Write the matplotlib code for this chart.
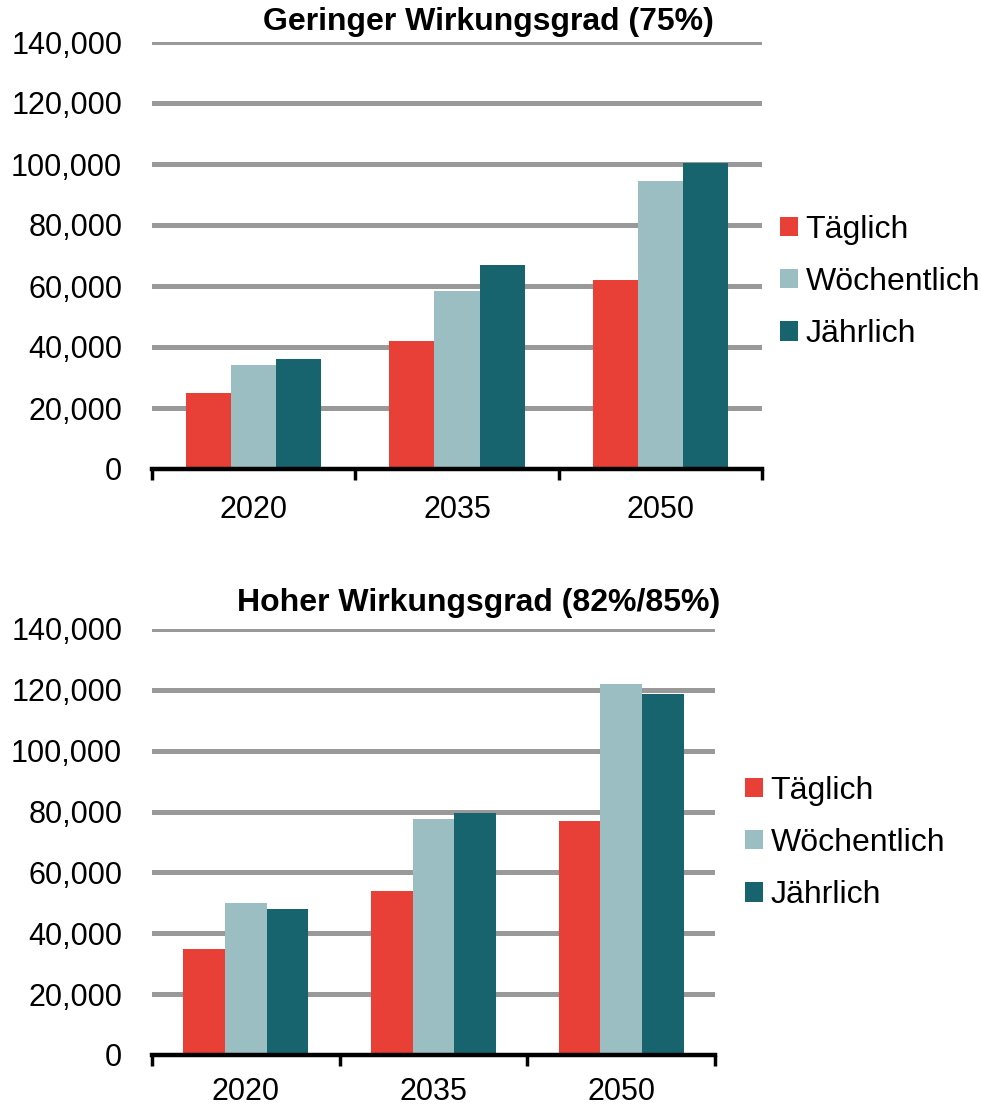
import matplotlib
matplotlib.use("Agg")
import matplotlib.pyplot as plt
from matplotlib.patches import Patch
import numpy as np

plt.rcParams['font.family'] = ['Liberation Sans', 'DejaVu Sans']

years = ["2020", "2035", "2050"]
series = ["Täglich", "Wöchentlich", "Jährlich"]
colors = ["#E84037", "#9BBEC2", "#17646F"]

low_taeglich = [25000, 42000, 62000]
low_woechentlich = [34000, 58300, 94300]
low_jaehrlich = [36000, 67000, 100400]

high_taeglich = [35000, 54000, 77000]
high_woechentlich = [50000, 77500, 122000]
high_jaehrlich = [48000, 79500, 118500]

title_low = "Geringer Wirkungsgrad (75%)"
title_high = "Hoher Wirkungsgrad (82%/85%)"

W, H = 981, 1107
fig = plt.figure(figsize=(W / 100, H / 100), dpi=100)


def fx(px):
    return px / W


def fy(py):
    return 1 - py / H


def draw(ax_rect, data, title, title_xy, legend_xy, xpad):
    ax = fig.add_axes(ax_rect)
    x = np.arange(len(years))
    bw = 0.222
    for i, (vals, c, name) in enumerate(zip(data, colors, series)):
        ax.bar(x + (i - 1) * bw, vals, width=bw, color=c, zorder=3, label=name)
    ax.set_xlim(-0.5, 2.5)
    ax.set_ylim(0, 140000)
    yt = np.arange(0, 140001, 20000)
    ax.set_yticks(yt)
    ax.set_yticklabels([f"{v:,}" for v in yt])
    ax.set_xticks(x)
    ax.set_xticklabels(years)
    ax.set_xticks([-0.5, 0.5, 1.5, 2.5], minor=True)
    ax.tick_params(axis='x', which='major', length=0, labelsize=22, pad=xpad)
    ax.tick_params(axis='x', which='minor', length=8, width=2.5, color='black', direction='out')
    ax.tick_params(axis='y', length=0, labelsize=22, pad=21.5)
    for s in ['top', 'right', 'left']:
        ax.spines[s].set_visible(False)
    ax.spines['bottom'].set_linewidth(3.2)
    ax.spines['bottom'].set_zorder(5)
    ax.yaxis.grid(True, color='#999999', linewidth=3.6, zorder=0)
    ax.set_axisbelow(True)
    fig.text(fx(title_xy[0]), fy(title_xy[1]), title, ha='center', va='center',
             fontsize=23, fontweight='bold')
    handles = [Patch(facecolor=c, edgecolor='none') for c in colors]
    fig.legend(handles, series, loc='center left',
               bbox_to_anchor=(fx(legend_xy[0]), fy(legend_xy[1])),
               frameon=False, fontsize=23, handlelength=0.55, handleheight=0.55,
               handletextpad=0.25, labelspacing=0.7, borderaxespad=0, borderpad=0)
    return ax


draw([fx(152), fy(469), fx(762) - fx(152), fy(42) - fy(469)],
     [low_taeglich, low_woechentlich, low_jaehrlich], title_low, (488, 22), (780, 282), 19)
draw([fx(152), fy(1055), fx(715) - fx(152), fy(629) - fy(1055)],
     [high_taeglich, high_woechentlich, high_jaehrlich], title_high, (479, 603), (745, 843), 15.5)

fig.savefig("out.png", dpi=100)
